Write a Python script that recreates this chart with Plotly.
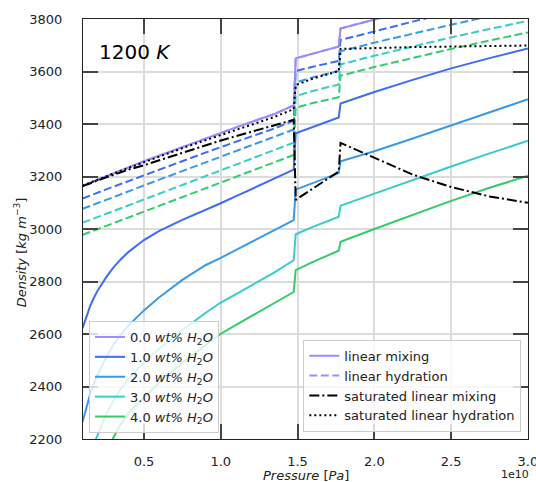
import plotly.graph_objects as go

# ---------------- data (pressure in units of 1e10 Pa) ----------------
pressure_e10 = [0.1, 0.125, 0.15, 0.175, 0.2, 0.25, 0.3, 0.35, 0.4, 0.5, 0.6, 0.75, 0.9,
                1.0, 1.1, 1.25, 1.35, 1.475,
                1.488, 1.6, 1.768,
                1.78, 2.0, 2.25, 2.5, 2.75, 3.0]

wt_labels = ["0.0", "1.0", "2.0", "3.0", "4.0"]

mix_0 = [3165, 3171, 3177, 3183, 3189, 3200, 3212, 3223, 3235, 3258, 3280, 3313, 3345,
         3366, 3387, 3418, 3438, 3471,
         3650, 3668, 3695,
         3764, 3799, 3838, 3875, 3911, 3945]
mix_1 = [2622, 2669, 2707, 2739, 2767, 2813, 2853, 2885, 2913, 2958, 2993, 3035, 3072,
         3098, 3125, 3165, 3192, 3226,
         3365, 3390, 3425,
         3478, 3522, 3568, 3612, 3651, 3688]
mix_2 = [2265, 2324, 2372, 2413, 2448, 2507, 2558, 2598, 2633, 2690, 2740, 2806, 2862,
         2890, 2920, 2965, 2995, 3034,
         3150, 3176, 3213,
         3258, 3296, 3345, 3394, 3444, 3494]
mix_3 = [2030, 2093, 2140, 2182, 2218, 2290, 2345, 2392, 2430, 2492, 2545, 2615, 2680,
         2720, 2752, 2800, 2835, 2881,
         2980, 3008, 3047,
         3089, 3135, 3185, 3238, 3288, 3336]
mix_4 = [1750, 1850, 1930, 1990, 2040, 2130, 2205, 2258, 2300, 2358, 2415, 2490, 2558,
         2601, 2635, 2685, 2720, 2760,
         2843, 2875, 2917,
         2951, 3000, 3055, 3107, 3157, 3203]

hyd_0 = mix_0
hyd_1 = [3116, 3122, 3127, 3133, 3138, 3150, 3161, 3172, 3183, 3205, 3227, 3259, 3291,
         3312, 3333, 3363, 3383, 3413,
         3602, 3618, 3640,
         3720, 3754, 3790, 3826, 3860, 3895]
hyd_2 = [3077, 3082, 3088, 3094, 3099, 3110, 3121, 3133, 3144, 3166, 3188, 3221, 3253,
         3275, 3296, 3328, 3350, 3379,
         3558, 3578, 3602,
         3677, 3710, 3745, 3778, 3810, 3842]
hyd_3 = [3024, 3030, 3035, 3041, 3046, 3057, 3068, 3079, 3090, 3113, 3135, 3168, 3201,
         3223, 3245, 3278, 3300, 3329,
         3506, 3526, 3551,
         3627, 3660, 3696, 3730, 3762, 3793]
hyd_4 = [2978, 2984, 2989, 2995, 3000, 3011, 3022, 3033, 3044, 3066, 3088, 3121, 3154,
         3176, 3198, 3231, 3253, 3282,
         3462, 3480, 3502,
         3584, 3617, 3652, 3686, 3718, 3749]

sat_mix = [3163, 3168, 3174, 3180, 3185, 3196, 3207, 3217, 3226, 3243, 3262, 3290, 3318,
           3337, 3354, 3378, 3395, 3416,
           3111, 3154, 3219,
           3328, 3272, 3207, 3160, 3124, 3100]
sat_hyd = [3165, 3171, 3177, 3182, 3188, 3200, 3211, 3222, 3233, 3255, 3276, 3308, 3338,
           3358, 3378, 3407, 3427, 3457,
           3548, 3573, 3602,
           3686, 3690, 3693, 3695, 3697, 3699]

x_ticks_e10 = [0.5, 1.0, 1.5, 2.0, 2.5, 3.0]
y_ticks = [2200, 2400, 2600, 2800, 3000, 3200, 3400, 3600, 3800]

colors = ["#9b8bff", "#3d6cf5", "#3a9ae8", "#38cdc8", "#34cc6a"]

# ---------------- figure ----------------
P = [p * 1e10 for p in pressure_e10]
mix_series = [mix_0, mix_1, mix_2, mix_3, mix_4]
hyd_series = [hyd_0, hyd_1, hyd_2, hyd_3, hyd_4]

FONT = "DejaVu Sans"
fig = go.Figure()

for i in range(5):
    fig.add_trace(go.Scatter(x=P, y=hyd_series[i], mode="lines",
                             line=dict(color=colors[i], width=2, dash="8px,3.5px"),
                             showlegend=False, hoverinfo="skip"))
for i in range(5):
    fig.add_trace(go.Scatter(
        x=P, y=mix_series[i], mode="lines",
        line=dict(color=colors[i], width=2),
        name=f"{wt_labels[i]} <i>wt%</i> <i>H</i><sub>2</sub><i>O</i>",
        legend="legend"))

fig.add_trace(go.Scatter(x=[None], y=[None], mode="lines",
                         line=dict(color=colors[0], width=2),
                         name="linear mixing", legend="legend2"))
fig.add_trace(go.Scatter(x=[None], y=[None], mode="lines",
                         line=dict(color=colors[0], width=2, dash="8px,3.5px"),
                         name="linear hydration", legend="legend2"))
fig.add_trace(go.Scatter(x=P, y=sat_mix, mode="lines",
                         line=dict(color="black", width=2, dash="10px,3px,2px,3px"),
                         name="saturated linear mixing", legend="legend2"))
fig.add_trace(go.Scatter(x=P, y=sat_hyd, mode="lines",
                         line=dict(color="black", width=2, dash="2px,3px"),
                         name="saturated linear hydration", legend="legend2"))

axis_common = dict(
    showgrid=True, gridcolor="#dcdcdc", gridwidth=2,
    showline=True, linecolor="#222", linewidth=1, mirror="ticks",
    ticks="inside", ticklen=15, tickwidth=1.5, tickcolor="#444",
    tickfont=dict(family=FONT, size=13, color="#222"),
    zeroline=False, automargin=False, ticklabeloverflow="allow",
)

fig.update_layout(
    width=536, height=482,
    margin=dict(l=83, r=8, t=19, b=43, autoexpand=False),
    paper_bgcolor="white", plot_bgcolor="white",
    font=dict(family=FONT, size=13, color="#222"),
    xaxis=dict(range=[0.103e10, 3.0005e10],
               tickvals=[v * 1e10 for v in x_ticks_e10],
               ticktext=[f"{v:.1f}" for v in x_ticks_e10],
               ticklabelstandoff=10, **axis_common),
    yaxis=dict(range=[2200, 3800], tickvals=y_ticks,
               ticktext=[str(v) for v in y_ticks],
               ticklabelstandoff=17, **axis_common),
    legend=dict(x=0.0135, y=0.0143, xanchor="left", yanchor="bottom",
                bgcolor="rgba(255,255,255,0.8)", bordercolor="#cccccc", borderwidth=1,
                font=dict(family=FONT, size=13, color="#222"),
                itemwidth=30, tracegroupgap=0),
    legend2=dict(x=0.985, y=0.0174, xanchor="right", yanchor="bottom",
                 bgcolor="rgba(255,255,255,0.8)", bordercolor="#cccccc", borderwidth=1,
                 font=dict(family=FONT, size=13, color="#222"),
                 itemwidth=30, tracegroupgap=0),
    showlegend=True,
    annotations=[
        dict(text="1200 <i>K</i>", xref="paper", yref="paper", x=0.031, y=0.922,
             xanchor="left", yanchor="middle", showarrow=False,
             font=dict(family=FONT, size=20, color="black")),
        dict(text="1e10", xref="paper", yref="paper", x=0.970, y=-0.0834,
             xanchor="center", yanchor="middle", showarrow=False,
             font=dict(family=FONT, size=11, color="#222")),
        dict(text="<i>Pressure</i> [<i>Pa</i>]", xref="paper", yref="paper",
             x=0.5, y=-0.088, xanchor="center", yanchor="middle", showarrow=False,
             font=dict(family=FONT, size=13, color="#222")),
        dict(text="<i>Density</i> [<i>kg</i> <i>m</i><sup>−3</sup>]", xref="paper", yref="paper",
             x=-0.141, y=0.445, xanchor="center", yanchor="middle", showarrow=False,
             textangle=-90, font=dict(family=FONT, size=13, color="#222")),
    ],
)

fig.write_html("out.html",
               config={"displayModeBar": False},
               post_script="document.body.style.margin='0px';document.body.style.overflow='hidden';")
